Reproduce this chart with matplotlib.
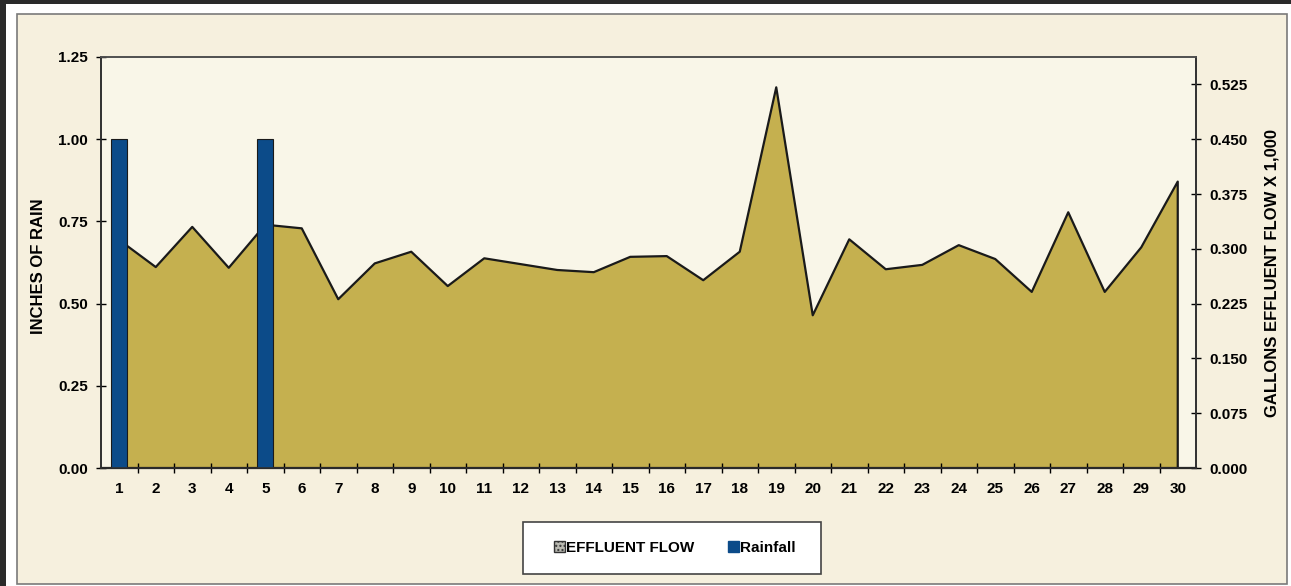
import matplotlib.pyplot as plt
from matplotlib.patches import Rectangle, Patch
import numpy as np

# daily values for the month
days = list(range(1, 31))
effluent_flow = [0.312, 0.275, 0.330, 0.274, 0.333, 0.328, 0.231, 0.280, 0.296, 0.249,
                 0.287, 0.279, 0.271, 0.268, 0.289, 0.290, 0.257, 0.296, 0.521, 0.209,
                 0.313, 0.272, 0.278, 0.305, 0.286, 0.241, 0.350, 0.241, 0.302, 0.392]
rainfall = [1.0, 0, 0, 0, 1.0, 0, 0, 0, 0, 0,
            0, 0, 0, 0, 0, 0, 0, 0, 0, 0,
            0, 0, 0, 0, 0, 0, 0, 0, 0, 0]
rain_ticks = [0.00, 0.25, 0.50, 0.75, 1.00, 1.25]
flow_ticks = [0.000, 0.075, 0.150, 0.225, 0.300, 0.375, 0.450, 0.525]

AREA = '#C5B04F'
BAR = '#0C4B89'
CREAM = '#F6F0DE'
PLOT_BG = '#F9F6E8'

plt.rcParams['font.family'] = ['Liberation Sans', 'DejaVu Sans']
plt.rcParams['font.weight'] = 'bold'

W, H = 1291, 586
fig = plt.figure(figsize=(W / 100, H / 100), dpi=100)
fig.patch.set_facecolor('white')

# page frame: dark edge on top/left, cream panel with gray border
fig.add_artist(Rectangle((0, 1 - 4 / H), 1, 4 / H, transform=fig.transFigure,
                         facecolor='#2a2a2a', edgecolor='none', zorder=-10))
fig.add_artist(Rectangle((0, 0), 6 / W, 1, transform=fig.transFigure,
                         facecolor='#2a2a2a', edgecolor='none', zorder=-10))
fig.add_artist(Rectangle((17 / W, 2 / H), (1287 - 17) / W, (570) / H,
                         transform=fig.transFigure, facecolor=CREAM,
                         edgecolor='#7a7a7a', linewidth=1.2, zorder=-10))

ax_flow = fig.add_axes([101 / W, 1 - 468 / H, (1196 - 101) / W, (468 - 57) / H])
ax_flow.set_facecolor(PLOT_BG)
ax_rain = ax_flow.twinx()

# effluent flow area (right axis)
ax_flow.fill_between(days, effluent_flow, 0, facecolor=AREA, edgecolor='none')
ax_flow.plot(days + [30], effluent_flow + [0], color='#1a1a1a', linewidth=1.6)
ax_flow.set_ylim(0, 0.5625)
ax_flow.set_xlim(0.5, 30.5)
ax_flow.yaxis.tick_right()
ax_flow.yaxis.set_label_position('right')
ax_flow.set_yticks(flow_ticks)
ax_flow.set_yticklabels([f'{v:.3f}' for v in flow_ticks])
ax_flow.set_ylabel('GALLONS EFFLUENT FLOW X 1,000', fontsize=12, fontweight='bold')
ax_flow.yaxis.set_label_coords(1.063, 0.475)

# rainfall bars (left axis)
ax_rain.bar(days, rainfall, width=0.44, color=BAR, edgecolor='#1a1a1a', linewidth=0.8)
ax_rain.set_ylim(0, 1.25)
ax_rain.yaxis.tick_left()
ax_rain.yaxis.set_label_position('left')
ax_rain.set_yticks(rain_ticks)
ax_rain.set_yticklabels([f'{v:.2f}' for v in rain_ticks])
ax_rain.set_ylabel('INCHES OF RAIN', fontsize=12, fontweight='bold')
ax_rain.yaxis.set_label_coords(-0.050, 0.49)

# category labels centred, tick marks between categories
ax_flow.set_xticks(days)
ax_flow.set_xticklabels([str(d) for d in days])
ax_flow.set_xticks(np.arange(1.5, 30, 1), minor=True)
ax_flow.tick_params(axis='x', which='major', length=0, pad=10, labelsize=11)
ax_flow.tick_params(axis='x', which='minor', direction='inout', length=7, width=1)
ax_flow.tick_params(axis='y', direction='inout', length=7, width=1, labelsize=11, pad=6)
ax_rain.tick_params(axis='y', direction='inout', length=7, width=1, labelsize=11, pad=6)

for a in (ax_flow, ax_rain):
    for s in a.spines.values():
        s.set_color('#303030')
        s.set_linewidth(1.2)
ax_flow.spines['bottom'].set_color('#111111')
ax_flow.spines['bottom'].set_linewidth(1.6)
ax_rain.spines['top'].set_color('#555555')

# legend box below the chart
fig.add_artist(Rectangle((523 / W, 1 - 574 / H), (821 - 523) / W, (574 - 522) / H,
                         transform=fig.transFigure, facecolor='white',
                         edgecolor='#444444', linewidth=1.2, zorder=2))
handles = [Patch(facecolor='#b8b8b0', edgecolor='#333333', hatch='....'),
           Patch(facecolor=BAR, edgecolor=BAR)]
leg = fig.legend(handles, ['EFFLUENT FLOW', 'Rainfall'], loc='center',
                 bbox_to_anchor=(675 / W, 1 - 548 / H), ncol=2, frameon=False,
                 handlelength=0.7, handleheight=0.7, handletextpad=0.1,
                 columnspacing=2.2, prop={'weight': 'bold', 'size': 11})
leg.set_zorder(3)

fig.savefig('out.png', dpi=100, facecolor=fig.get_facecolor())
